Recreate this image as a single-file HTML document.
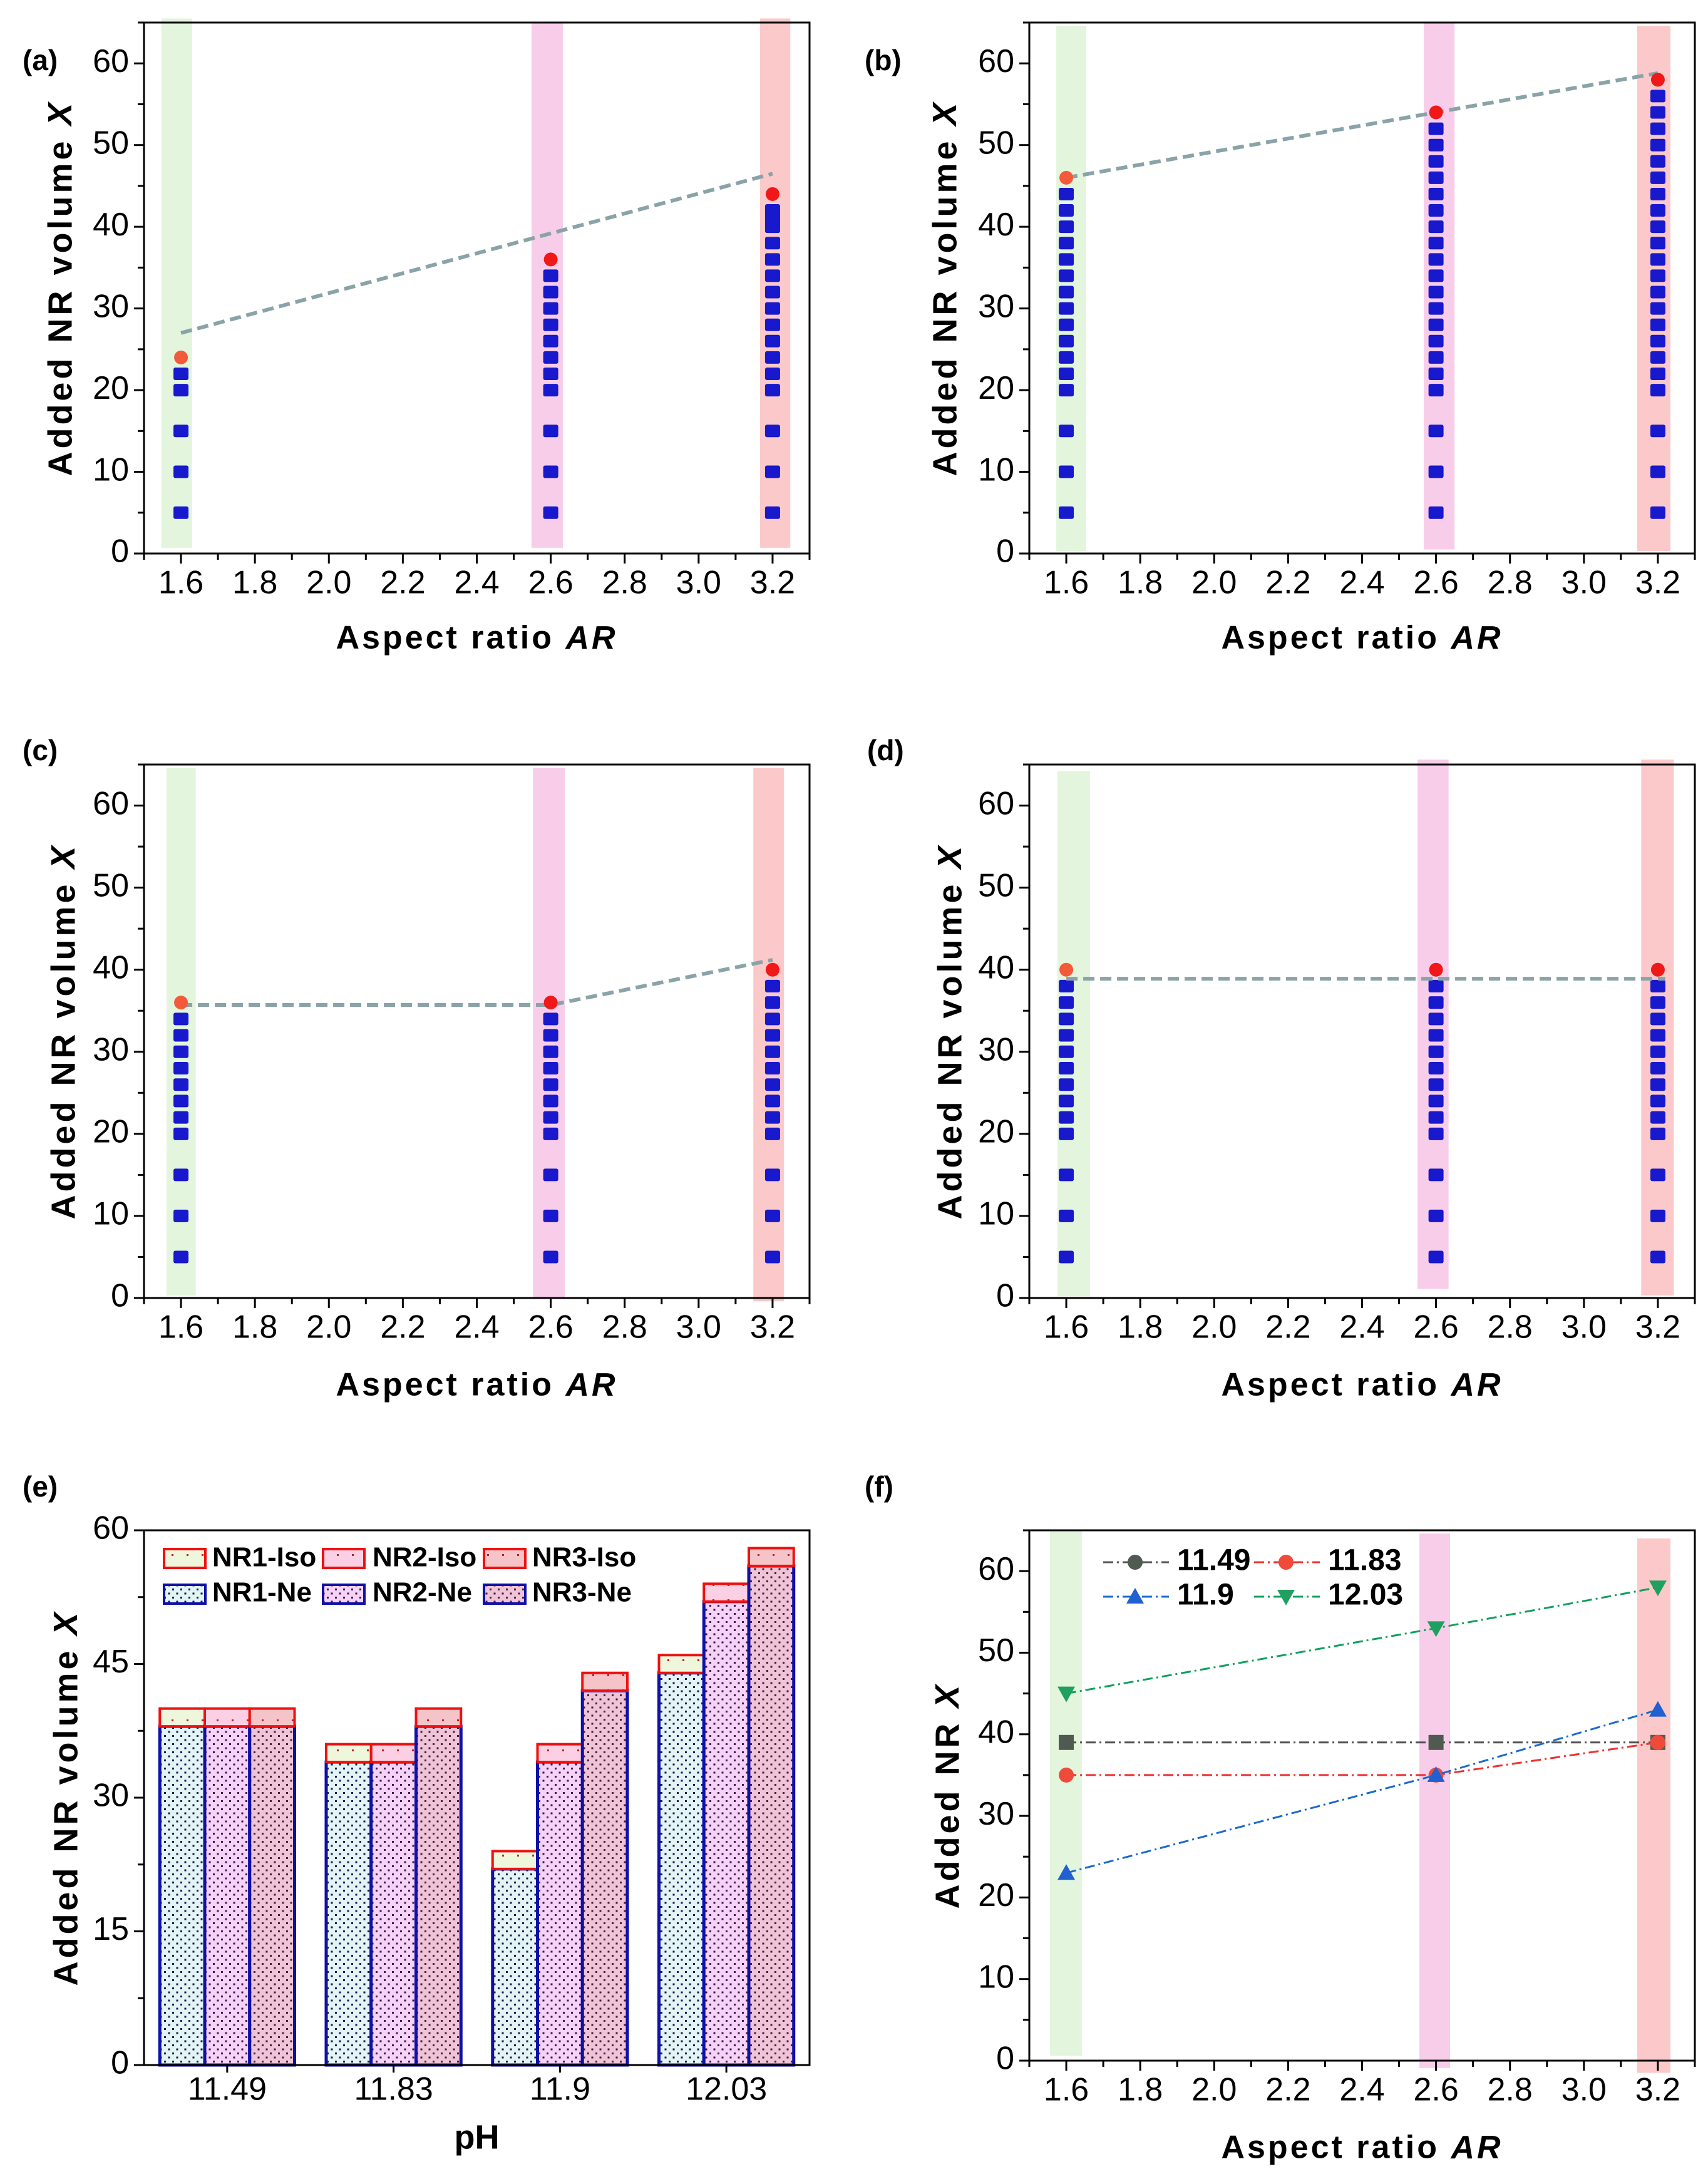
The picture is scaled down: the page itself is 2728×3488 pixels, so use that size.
<!DOCTYPE html>
<html><head><meta charset="utf-8"><style>
html,body{margin:0;padding:0;background:#fff}
svg{display:block}
text{font-family:"Liberation Sans",Arial,sans-serif;fill:#000}
</style></head>
<body>
<svg id="fig" xmlns="http://www.w3.org/2000/svg" width="2728" height="3488" viewBox="0 0 2728 3488">
<defs>
<pattern id="dotsA" width="13" height="13" patternUnits="userSpaceOnUse"><rect width="13" height="13" fill="#e2f4f4"/><rect x="2" y="2" width="3" height="3" fill="#1a1a50"/><rect x="8.5" y="8.5" width="3" height="3" fill="#1a1a50"/></pattern>
<pattern id="dotsB" width="13" height="13" patternUnits="userSpaceOnUse"><rect width="13" height="13" fill="#f6d2f6"/><rect x="2" y="2" width="3" height="3" fill="#3a1a50"/><rect x="8.5" y="8.5" width="3" height="3" fill="#3a1a50"/></pattern>
<pattern id="dotsC" width="13" height="13" patternUnits="userSpaceOnUse"><rect width="13" height="13" fill="#eec4d6"/><rect x="2" y="2" width="3" height="3" fill="#4a1a40"/><rect x="8.5" y="8.5" width="3" height="3" fill="#4a1a40"/></pattern>
<pattern id="isoA" width="24" height="24" patternUnits="userSpaceOnUse"><rect width="24" height="24" fill="#eef6dc"/><rect x="10" y="10" width="3" height="3" fill="#c02020"/></pattern>
<pattern id="isoB" width="24" height="24" patternUnits="userSpaceOnUse"><rect width="24" height="24" fill="#fbd0e4"/><rect x="10" y="10" width="3" height="3" fill="#c02020"/></pattern>
<pattern id="isoC" width="24" height="24" patternUnits="userSpaceOnUse"><rect width="24" height="24" fill="#f4c4c8"/><rect x="10" y="10" width="3" height="3" fill="#c02020"/></pattern>
</defs>
</svg>
<script>
// ===== data =====
const AR = [1.6, 2.6, 3.2];
const xTicks = [1.6, 1.8, 2.0, 2.2, 2.4, 2.6, 2.8, 3.0, 3.2];
const xTickLabels = ['1.6','1.8','2.0','2.2','2.4','2.6','2.8','3.0','3.2'];
const yTicks = [0, 10, 20, 30, 40, 50, 60];
const eTicks = [0, 15, 30, 45, 60];

const aBlue16 = [5, 10, 15, 20, 22];
const aBlue26 = [5, 10, 15, 20, 22, 24, 26, 28, 30, 32, 34];
const aBlue32 = [5, 10, 15, 20, 22, 24, 26, 28, 30, 32, 34, 36, 38, 40, 41, 42];
const aRed = [24, 36, 44];
const aFitX = [1.6, 3.2];
const aFitY = [27, 46.5];

const bBlue16 = [5, 10, 15, 20, 22, 24, 26, 28, 30, 32, 34, 36, 38, 40, 42, 44];
const bBlue26 = [5, 10, 15, 20, 22, 24, 26, 28, 30, 32, 34, 36, 38, 40, 42, 44, 46, 48, 50, 52];
const bBlue32 = [5, 10, 15, 20, 22, 24, 26, 28, 30, 32, 34, 36, 38, 40, 42, 44, 46, 48, 50, 52, 54, 56];
const bRed = [46, 54, 58];
const bFitX = [1.6, 3.2];
const bFitY = [46, 58.8];

const cBlue16 = [5, 10, 15, 20, 22, 24, 26, 28, 30, 32, 34];
const cBlue26 = [5, 10, 15, 20, 22, 24, 26, 28, 30, 32, 34];
const cBlue32 = [5, 10, 15, 20, 22, 24, 26, 28, 30, 32, 34, 36, 38];
const cRed = [36, 36, 40];
const cFitX = [1.6, 2.6, 3.2];
const cFitY = [35.7, 35.7, 41.2];

const dBlue16 = [5, 10, 15, 20, 22, 24, 26, 28, 30, 32, 34, 36, 38];
const dBlue26 = [5, 10, 15, 20, 22, 24, 26, 28, 30, 32, 34, 36, 38];
const dBlue32 = [5, 10, 15, 20, 22, 24, 26, 28, 30, 32, 34, 36, 38];
const dRed = [40, 40, 40];
const dFitX = [1.6, 3.22];
const dFitY = [38.9, 38.9];

const pH = ['11.49', '11.83', '11.9', '12.03'];
const ne1 = [38, 34, 22, 44];
const ne2 = [38, 34, 34, 52];
const ne3 = [38, 38, 42, 56];
const iso1 = [40, 36, 24, 46];
const iso2 = [40, 36, 36, 54];
const iso3 = [40, 40, 44, 58];

const f1149 = [39, 39, 39];
const f1183 = [35, 35, 39];
const f119 = [23, 35, 43];
const f1203 = [45, 53, 58];

// ===== helpers =====
const NS = 'http://www.w3.org/2000/svg';
const svg = document.getElementById('fig');
function mk(tag, attrs, parent) {
  const e = document.createElementNS(NS, tag);
  for (const k in attrs) e.setAttribute(k, attrs[k]);
  (parent || svg).appendChild(e);
  return e;
}
function scales(x0, x1, y0, y1, dx0, dx1, dy0, dy1) {
  return {
    x0, x1, y0, y1,
    sx: v => x0 + (v - dx0) / (dx1 - dx0) * (x1 - x0),
    sy: v => y1 - (v - dy0) / (dy1 - dy0) * (y1 - y0)
  };
}
function txt(x, y, s, size, anchor, parent, weight) {
  const t = mk('text', {x: x, y: y, 'font-size': size, 'font-weight': weight || 'bold', 'text-anchor': anchor || 'middle', 'dominant-baseline': 'middle'}, parent);
  t.textContent = s;
  return t;
}
function frame(p, g) {
  const r = mk('rect', {x: p.x0, y: p.y0, width: p.x1 - p.x0, height: p.y1 - p.y0, fill: 'none', stroke: '#000', 'stroke-width': 3}, g);
  
  
}
function yAxis(p, g, ticks, minorStep, maxV) {
  for (let v = 0; v <= maxV + 0.001; v += minorStep) {
    const major = ticks.some(t => Math.abs(t - v) < 0.001);
    const l = mk('line', {x1: p.x0, x2: p.x0 - (major ? 16 : 10), y1: p.sy(v), y2: p.sy(v), stroke: '#000', 'stroke-width': 3}, g);
    
    
  }
  ticks.forEach(t => {
    const tl = txt(p.x0 - 24, p.sy(t), String(t), 52, 'end', g, 'normal');
    
    
  });
}
function xAxisAR(p, g) {
  for (let v = 1.5; v <= 3.301; v += 0.1) {
    const major = xTicks.some(t => Math.abs(t - v) < 0.001);
    const l = mk('line', {x1: p.sx(v), x2: p.sx(v), y1: p.y1, y2: p.y1 + (major ? 16 : 10), stroke: '#000', 'stroke-width': 3}, g);
    
    
  }
  xTicks.forEach((t, i) => {
    const tl = txt(p.sx(t), p.y1 + 50, xTickLabels[i], 52, 'middle', g, 'normal');
    
    
  });
}
function xTitleAR(p, g, y) {
  const t = mk('text', {x: (p.x0 + p.x1) / 2, y: y, 'font-size': 52, 'font-weight': 'bold', 'text-anchor': 'middle', 'dominant-baseline': 'middle', 'letter-spacing': 4}, g);
  
  
  t.appendChild(document.createTextNode('Aspect ratio '));
  const it = mk('tspan', {'font-style': 'italic'}, t);
  it.textContent = 'AR';
}
function yTitle(p, g, x, label) {
  const cy = (p.y0 + p.y1) / 2;
  const t = mk('text', {x: x, y: cy, 'font-size': 54, 'font-weight': 'bold', 'text-anchor': 'middle', 'dominant-baseline': 'middle', 'letter-spacing': 5, transform: 'rotate(-90 ' + x + ' ' + cy + ')'}, g);
  
  
  t.appendChild(document.createTextNode(label + ' '));
  const it = mk('tspan', {'font-style': 'italic'}, t);
  it.textContent = 'X';
}
function panelLabel(x, y, s) {
  const t = txt(x, y, s, 46, 'start');
  
  
}
function bands(p, g, list) {
  const cols = ['#e3f5dc', '#f8cdea', '#fbc9c9'];
  const names = ['band-ar-1-6', 'band-ar-2-6', 'band-ar-3-2'];
  list.forEach((b, i) => {
    const r = mk('rect', {x: p.sx(b[0]), y: p.sy(b[2]), width: p.sx(b[1]) - p.sx(b[0]), height: p.sy(b[3]) - p.sy(b[2]), fill: cols[i]}, g);
    
    
  });
}
function scatter(p, g, blues, reds, fx, fy) {
  blues.forEach((arr, i) => {
    arr.forEach(v => {
      const r = mk('rect', {x: p.sx(AR[i]) - 12, y: p.sy(v) - 10, width: 24, height: 20, rx: 3, fill: '#1818cc'}, g);
      
      
    });
  });
  const pts = fx.map((x, i) => p.sx(x) + ',' + p.sy(fy[i])).join(' ');
  const pl = mk('polyline', {points: pts, fill: 'none', stroke: '#8aa3a8', 'stroke-width': 6, 'stroke-dasharray': '18 9'}, g);
  
  
  reds.forEach((v, i) => {
    const c = mk('circle', {cx: p.sx(AR[i]), cy: p.sy(v), r: 11, fill: i === 0 ? '#f25a3a' : '#f01818'}, g);
    
    
  });
}
function scatterPanel(name, x0, y0, y1, lab, labX, labY, titleX, xTitleY, bandList, blues, reds, fx, fy) {
  const g = mk('g', {});
  
  
  const p = scales(x0, x0 + 1063, y0, y1, 1.5, 3.3, 0, 65);
  bands(p, g, bandList);
  scatter(p, g, blues, reds, fx, fy);
  frame(p, g);
  yAxis(p, g, yTicks, 5, 65);
  xAxisAR(p, g);
  xTitleAR(p, g, xTitleY);
  yTitle(p, g, titleX, 'Added NR volume');
  panelLabel(labX, labY, lab);
}

// ===== panels a-d =====
scatterPanel('panel-a', 230, 36, 884, '(a)', 36, 100, 100, 1022,
  [[1.547, 1.63, 65.5, 0.7], [2.548, 2.633, 65, 0.7], [3.166, 3.248, 65.5, 0.7]],
  [aBlue16, aBlue26, aBlue32], aRed, aFitX, aFitY);
scatterPanel('panel-b', 1644, 36, 884, '(b)', 1381, 100, 1513, 1022,
  [[1.573, 1.654, 64.6, 0.3], [2.567, 2.65, 65, 0.5], [3.144, 3.234, 64.6, 0.3]],
  [bBlue16, bBlue26, bBlue32], bRed, bFitX, bFitY);
scatterPanel('panel-c', 230, 1221, 2073, '(c)', 36, 1202, 105, 2215,
  [[1.561, 1.64, 64.6, 0.3], [2.552, 2.638, 64.6, 0], [3.148, 3.231, 64.6, -0.4]],
  [cBlue16, cBlue26, cBlue32], cRed, cFitX, cFitY);
scatterPanel('panel-d', 1644, 1221, 2073, '(d)', 1385, 1202, 1521, 2215,
  [[1.576, 1.664, 64.2, 0.2], [2.55, 2.634, 65.6, 1.1], [3.155, 3.243, 65.6, 0.3]],
  [dBlue16, dBlue26, dBlue32], dRed, dFitX, dFitY);

// ===== panel e (bars) =====
(function () {
  const g = mk('g', {});
  
  
  const p = scales(230, 1293, 2444, 3298, 0, 4, 0, 60);
  const catW = (p.x1 - p.x0) / pH.length;
  const bw = catW * 0.27;
  const neS = [ne1, ne2, ne3];
  const isoS = [iso1, iso2, iso3];
  const neFill = ['url(#dotsA)', 'url(#dotsB)', 'url(#dotsC)'];
  const isoFill = ['url(#isoA)', 'url(#isoB)', 'url(#isoC)'];
  pH.forEach((c, i) => {
    const cx = p.x0 + (i + 0.5) * catW;
    for (let j = 0; j < 3; j++) {
      const bx = cx - 1.5 * bw + j * bw;
      const ne = neS[j][i], iso = isoS[j][i];
      const r = mk('rect', {x: bx, y: p.sy(ne), width: bw, height: p.sy(0) - p.sy(ne), fill: neFill[j], stroke: '#1010a8', 'stroke-width': 5}, g);
      
      
      const r2 = mk('rect', {x: bx, y: p.sy(iso), width: bw, height: p.sy(ne) - p.sy(iso), fill: isoFill[j], stroke: '#f01010', 'stroke-width': 4}, g);
      
      
    }
    const tk = mk('line', {x1: cx, x2: cx, y1: p.y1, y2: p.y1 + 12, stroke: '#000', 'stroke-width': 3}, g);
    
    
    const tl = txt(cx, p.y1 + 42, c, 52, 'middle', g, 'normal');
    
    
  });
  frame(p, g);
  yAxis(p, g, eTicks, 7.5, 60);
  const xt = txt((p.x0 + p.x1) / 2, 3417, 'pH', 54, 'middle', g);
  
  
  yTitle(p, g, 109, 'Added NR volume');
  panelLabel(36, 2378, '(e)');
  const lg = mk('g', {}, g);
  
  
  const legX = [262, 516, 773];
  const legT = [339, 595, 850];
  for (let j = 0; j < 3; j++) {
    const s1 = mk('rect', {x: legX[j], y: 2474, width: 66, height: 30, fill: isoFill[j], stroke: '#f01010', 'stroke-width': 4}, lg);
    
    
    const t1 = txt(legT[j], 2490, 'NR' + (j + 1) + '-Iso', 44, 'start', lg);
    
    
    const s2 = mk('rect', {x: legX[j], y: 2531, width: 66, height: 30, fill: neFill[j], stroke: '#1010a8', 'stroke-width': 4}, lg);
    
    
    const t2 = txt(legT[j], 2546, 'NR' + (j + 1) + '-Ne', 44, 'start', lg);
    
    
  }
})();

// ===== panel f (lines) =====
(function () {
  const g = mk('g', {});
  
  
  const p = scales(1644, 2707, 2444, 3291, 1.5, 3.3, 0, 65);
  bands(p, g, [[1.556, 1.642, 65, 0.6], [2.555, 2.638, 64.6, -0.9], [3.144, 3.234, 64, -1.5]]);
  const series = [f1149, f1183, f119, f1203];
  const cols = ['#555555', '#f03030', '#1a6ad0', '#10a060'];
  const mcols = ['#505a50', '#f04a3a', '#2060d0', '#20a060'];
  const shapes = ['square', 'circle', 'tri', 'dtri'];
  const names = ['series-11-49', 'series-11-83', 'series-11-9', 'series-12-03'];
  function marker(shape, x, y, col, parent, nm) {
    let m;
    if (shape === 'square') m = mk('rect', {x: x - 12, y: y - 12, width: 24, height: 24, fill: col}, parent);
    else if (shape === 'circle') m = mk('circle', {cx: x, cy: y, r: 12, fill: col}, parent);
    else if (shape === 'tri') m = mk('polygon', {points: (x) + ',' + (y - 14) + ' ' + (x - 14) + ',' + (y + 11) + ' ' + (x + 14) + ',' + (y + 11), fill: col}, parent);
    else m = mk('polygon', {points: (x) + ',' + (y + 14) + ' ' + (x - 14) + ',' + (y - 11) + ' ' + (x + 14) + ',' + (y - 11), fill: col}, parent);
    
    
  }
  series.forEach((s, k) => {
    const pts = s.map((v, i) => p.sx(AR[i]) + ',' + p.sy(v)).join(' ');
    const pl = mk('polyline', {points: pts, fill: 'none', stroke: cols[k], 'stroke-width': 3, 'stroke-dasharray': '16 6 3 6'}, g);
    
    
    s.forEach((v, i) => marker(shapes[k], p.sx(AR[i]), p.sy(v), mcols[k], g, names[k] + '-point'));
  });
  frame(p, g);
  yAxis(p, g, yTicks, 5, 65);
  xAxisAR(p, g);
  xTitleAR(p, g, 3433);
  yTitle(p, g, 1517, 'Added NR');
  panelLabel(1381, 2378, '(f)');
  const lg = mk('g', {}, g);
  
  
  const legLab = ['11.49', '11.83', '11.9', '12.03'];
  const lx = [1762, 2003, 1762, 2003];
  const ly = [2495, 2495, 2550, 2550];
  const lshape = ['circle', 'circle', 'tri', 'dtri'];
  legLab.forEach((s, k) => {
    const ln = mk('line', {x1: lx[k], x2: lx[k] + 105, y1: ly[k], y2: ly[k], stroke: cols[k], 'stroke-width': 3, 'stroke-dasharray': '16 6 3 6'}, lg);
    
    
    marker(lshape[k], lx[k] + 51, ly[k], mcols[k], lg, 'legend-marker');
    const t = txt(lx[k] + 118, ly[k], s, 48, 'start', lg);
    
    
  });
})();
</script>
</body></html>
